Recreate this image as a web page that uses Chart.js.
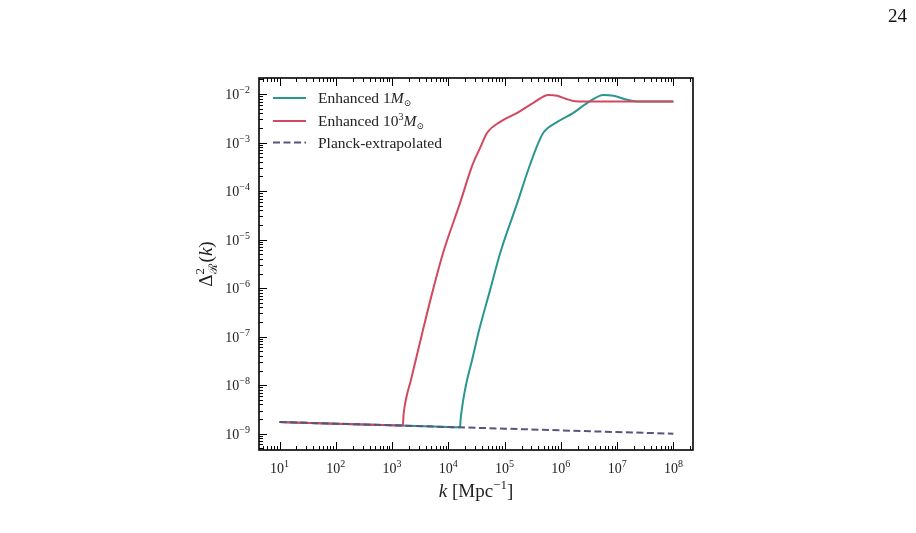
<!DOCTYPE html>
<html>
<head>
<meta charset="utf-8">
<script src="https://cdn.jsdelivr.net/npm/chart.js@4.4.0/dist/chart.umd.min.js"></script>
<style>
  body { margin: 0; background: #fff; }
  #wrap { width: 916px; height: 533px; }
</style>
</head>
<body>
<div id="wrap"><canvas id="chart" width="916" height="533"></canvas></div>
<script>
// Enhanced 10^3 Msun
const kRed = [10, 100, 1000, 1557, 1590, 1622, 1837, 2163, 2767, 3540, 5336, 8054, 16180, 26450, 36700, 48960, 83500, 168000, 324000, 599000, 866000, 1250000, 1670000, 2730000, 1e7, 1e8];
const pRed = [1.74e-9, 1.61e-9, 1.49e-9, 1.47e-9, 2.2e-9, 2.85e-9, 6.28e-9, 1.28e-8, 4.2e-8, 1.37e-7, 9.2e-7, 5.3e-6, 5.7e-5, 3.3e-4, 7.8e-4, 1.59e-3, 2.67e-3, 4.1e-3, 6.6e-3, 9.6e-3, 9.2e-3, 7.9e-3, 7.2e-3, 7.0e-3, 7.0e-3, 7.0e-3];
// Enhanced 1 Msun
const kTeal = [10, 100, 1000, 10000, 16170, 16480, 17330, 19050, 21530, 26430, 35240, 55340, 83500, 168000, 263000, 366000, 488000, 867000, 1670000, 2960000, 5730000, 8630000, 15300000, 23100000, 1e8];
const pTeal = [1.74e-9, 1.61e-9, 1.49e-9, 1.37e-9, 1.35e-9, 1.91e-9, 3.1e-9, 6.3e-9, 1.28e-8, 3.3e-8, 1.37e-7, 9.2e-7, 5.3e-6, 5.7e-5, 2.75e-4, 7.8e-4, 1.59e-3, 2.67e-3, 4.1e-3, 6.6e-3, 9.6e-3, 9.2e-3, 7.6e-3, 7.0e-3, 7.0e-3];
// Planck-extrapolated
const kPlanck = [10, 100, 1000, 1e4, 1e5, 1e6, 1e7, 1e8];
const pPlanck = [1.74e-9, 1.61e-9, 1.49e-9, 1.37e-9, 1.27e-9, 1.17e-9, 1.08e-9, 1.0e-9];
// tick labels (exponents of 10)
const xTickExp = [1, 2, 3, 4, 5, 6, 7, 8];
const yTickExp = [-9, -8, -7, -6, -5, -4, -3, -2];

const colors = { teal: "#2a978d", red: "#d1495e", planck: "#55557f" };
const serif = '"Liberation Serif", "DejaVu Serif", serif';

function pts(ks, ps) {
  return ks.map((k, i) => ({ x: k, y: ps[i] }));
}

// draw a row of text pieces: [text, size, italic, dy]
function runs(ctx, parts, x, y, align) {
  const font = (p) => (p[2] ? "italic " : "") + p[1] + "px " + serif;
  let w = 0;
  parts.forEach((p) => { ctx.font = font(p); w += ctx.measureText(p[0]).width; });
  let cx = align === "center" ? x - w / 2 : align === "right" ? x - w : x;
  ctx.textAlign = "left";
  ctx.textBaseline = "alphabetic";
  parts.forEach((p) => {
    ctx.font = font(p);
    ctx.fillText(p[0], cx, y + (p[3] || 0));
    cx += ctx.measureText(p[0]).width;
  });
}

function sup(e) {
  return e < 0 ? "\u2212" + (-e) : String(e);
}

const decor = {
  id: "decor",
  afterDraw(chart) {
    const { ctx, chartArea: a, scales: { x, y } } = chart;
    ctx.save();
    ctx.strokeStyle = "#000";
    ctx.fillStyle = "#000";
    ctx.lineWidth = 1;

    // ticks, pointing inward (bottom, top, left)
    ctx.beginPath();
    for (let d = -1; d <= 9; d++) {
      for (let m = 1; m <= 9; m++) {
        const v = m * Math.pow(10, d);
        if (v < x.min || v > x.max) continue;
        const px = Math.round(x.getPixelForValue(v)) + 0.5;
        const len = m === 1 ? 8 : 4;
        ctx.moveTo(px, a.bottom); ctx.lineTo(px, a.bottom - len);
        ctx.moveTo(px, a.top); ctx.lineTo(px, a.top + len);
      }
    }
    for (let d = -11; d <= 0; d++) {
      for (let m = 1; m <= 9; m++) {
        const v = m * Math.pow(10, d);
        if (v < y.min || v > y.max) continue;
        const py = Math.round(y.getPixelForValue(v)) + 0.5;
        const len = m === 1 ? 8 : 4;
        ctx.moveTo(a.left, py); ctx.lineTo(a.left + len, py);
      }
    }
    ctx.stroke();

    // frame
    ctx.lineWidth = 1.6;
    ctx.strokeRect(a.left, a.top, a.right - a.left, a.bottom - a.top);

    // tick labels
    ctx.fillStyle = "#222";
    xTickExp.forEach((e) => {
      const px = x.getPixelForValue(Math.pow(10, e));
      runs(ctx, [["10", 14], [sup(e), 10, false, -6]], px, 473, "center");
    });
    yTickExp.forEach((e) => {
      const py = y.getPixelForValue(Math.pow(10, e));
      runs(ctx, [["10", 14], [sup(e), 10, false, -6]], 250, py + 5, "right");
    });

    // axis labels
    runs(ctx, [["k", 19, true], [" [Mpc", 19], ["\u22121", 13, false, -8], ["]", 19]], (a.left + a.right) / 2, 497, "center");
    ctx.save();
    ctx.translate(212, (a.top + a.bottom) / 2);
    ctx.rotate(-Math.PI / 2);
    ctx.font = "19px " + serif;
    const wD = ctx.measureText("\u0394").width;
    ctx.font = "13px " + serif;
    const wS = Math.max(ctx.measureText("2").width, ctx.measureText("\u211B").width);
    ctx.font = "19px " + serif;
    const wK = ctx.measureText("()").width;
    ctx.font = "italic 19px " + serif;
    const wk = ctx.measureText("k").width;
    let sx = -(wD + wS + wK + wk + 1) / 2;
    runs(ctx, [["\u0394", 19]], sx, 0, "left");
    sx += wD;
    runs(ctx, [["2", 13]], sx, -8, "left");
    runs(ctx, [["\u211B", 12]], sx, 5, "left");
    sx += wS + 1;
    runs(ctx, [["(", 19], ["k", 19, true], [")", 19]], sx, 0, "left");
    ctx.restore();

    // legend
    const legend = [
      { c: colors.teal, dash: [], y: 98, t: [["Enhanced 1", 15.5], ["M", 15.5, true], ["\u2299", 9, false, 3]] },
      { c: colors.red, dash: [], y: 121, t: [["Enhanced 10", 15.5], ["3", 10, false, -6], ["M", 15.5, true], ["\u2299", 9, false, 3]] },
      { c: colors.planck, dash: [7, 3.5], y: 142.5, t: [["Planck-extrapolated", 15.5]] },
    ];
    legend.forEach((l) => {
      ctx.strokeStyle = l.c;
      ctx.lineWidth = 2;
      ctx.setLineDash(l.dash);
      ctx.beginPath();
      ctx.moveTo(273, l.y); ctx.lineTo(306, l.y);
      ctx.stroke();
      ctx.setLineDash([]);
      ctx.fillStyle = "#222";
      runs(ctx, l.t, 318, l.y + 5, "left");
    });

    // page number
    ctx.fillStyle = "#111";
    runs(ctx, [["24", 19]], 907, 22, "right");
    ctx.restore();
  },
};

new Chart(document.getElementById("chart"), {
  type: "line",
  data: {
    datasets: [
      { label: "Planck-extrapolated", data: pts(kPlanck, pPlanck), borderColor: colors.planck, borderDash: [7, 3.5], borderWidth: 2, pointRadius: 0, order: 0 },
      { label: "Enhanced 10^3 Msun", data: pts(kRed, pRed), borderColor: colors.red, borderWidth: 2, pointRadius: 0, cubicInterpolationMode: "monotone", order: 1 },
      { label: "Enhanced 1 Msun", data: pts(kTeal, pTeal), borderColor: colors.teal, borderWidth: 2, pointRadius: 0, cubicInterpolationMode: "monotone", order: 2 },
    ],
  },
  options: {
    responsive: false,
    animation: false,
    layout: { padding: { left: 259, top: 78, right: 223, bottom: 83 } },
    plugins: { legend: { display: false }, tooltip: { enabled: false } },
    scales: {
      x: {
        type: "logarithmic",
        min: 4.315,
        max: 2.23e8,
        grid: { display: false },
        border: { display: false },
        ticks: { display: false },
        afterFit: (s) => { s.height = 0; },
      },
      y: {
        type: "logarithmic",
        min: 4.61e-10,
        max: 2.14e-2,
        grid: { display: false },
        border: { display: false },
        ticks: { display: false },
        afterFit: (s) => { s.width = 0; },
      },
    },
  },
  plugins: [decor],
});
</script>
</body>
</html>
